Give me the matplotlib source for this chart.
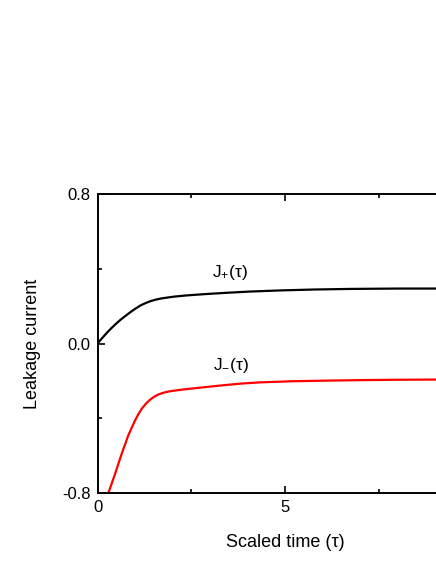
import numpy as np
import matplotlib
matplotlib.use("Agg")
import matplotlib.pyplot as plt
from matplotlib.ticker import MultipleLocator

plt.rcParams['font.family'] = ['Liberation Sans', 'DejaVu Sans']
plt.rcParams['mathtext.fontset'] = 'custom'
plt.rcParams['mathtext.rm'] = 'Liberation Sans'
plt.rcParams['mathtext.it'] = 'Liberation Sans'

# J+(tau) curve
tau_plus = [0.0, 0.12, 0.23, 0.36, 0.49, 0.62, 0.76, 0.9, 1.03, 1.15, 1.29, 1.42, 1.56, 1.7, 1.83, 2.05, 2.36, 2.7, 3.0, 3.5, 4.07, 4.87, 5.8, 6.73, 8.0, 9.0, 10.0]
j_plus = [0.0, 0.028, 0.053, 0.080, 0.105, 0.128, 0.150, 0.171, 0.189, 0.204, 0.217, 0.227, 0.235, 0.241, 0.245, 0.251, 0.257, 0.262, 0.266, 0.272, 0.278, 0.284, 0.289, 0.292, 0.294, 0.294, 0.295]

# J-(tau) curve
tau_minus = [0.29, 0.47, 0.645, 0.82, 1.0, 1.09, 1.18, 1.29, 1.4, 1.51, 1.62, 1.75, 1.89, 2.2, 2.7, 3.27, 3.8, 4.33, 5.2, 6.0, 7.0, 8.0, 9.0, 10.0]
j_minus = [-0.80, -0.697, -0.590, -0.492, -0.412, -0.378, -0.349, -0.322, -0.301, -0.285, -0.273, -0.264, -0.257, -0.248, -0.237, -0.225, -0.215, -0.208, -0.202, -0.199, -0.196, -0.194, -0.193, -0.192]

x_ticks = [0, 5]
x_ticklabels = ["0", "5"]
y_ticks = [-0.8, 0.0, 0.8]
y_ticklabels = ["-0.8", "0.0", "0.8"]

fig = plt.figure(figsize=(4.36, 5.64), dpi=100)
W, H = 436, 564
ax = fig.add_axes([97.5 / W, (H - 493) / H, 375 / W, (493 - 194) / H])

ax.plot(tau_plus, j_plus, color='black', lw=1.6)
ax.plot(tau_minus, j_minus, color='red', lw=1.6)

ax.set_xlim(0, 10)
ax.set_ylim(-0.8, 0.8)
ax.set_xticks(x_ticks)
ax.set_xticklabels(x_ticklabels)
ax.set_yticks(y_ticks)
ax.set_yticklabels(y_ticklabels)
ax.xaxis.set_minor_locator(MultipleLocator(2.5))
ax.yaxis.set_minor_locator(MultipleLocator(0.4))
ax.tick_params(which='both', direction='in', top=True, right=True, width=1.2, labelsize=12, pad=5)
ax.tick_params(which='major', length=5)
ax.tick_params(which='minor', length=3)
for s in ax.spines.values():
    s.set_linewidth(1.4)

ax.set_xlabel("Scaled time (τ)", fontsize=13, labelpad=14)
ax.set_ylabel("Leakage current", fontsize=13, labelpad=15)

ax.text(3.53, 0.38, r"J$_{+}$(τ)", fontsize=12.5, ha='center', va='center')
ax.text(3.56, -0.118, r"J$_{-}$(τ)", fontsize=12.5, ha='center', va='center')

fig.savefig("out.png", dpi=100)
